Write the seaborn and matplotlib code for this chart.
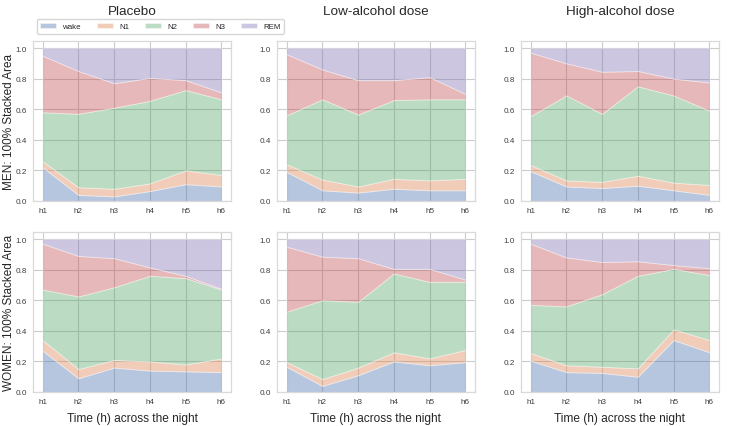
import numpy as np
import pandas as pd
import matplotlib
matplotlib.use("Agg")
import matplotlib.pyplot as plt
import seaborn as sns

hours = ["h1", "h2", "h3", "h4", "h5", "h6"]
stages = ["wake", "N1", "N2", "N3", "REM"]
conditions = ["Placebo", "Low-alcohol dose", "High-alcohol dose"]
groups = ["MEN", "WOMEN"]

# proportions of each stage per hour
men_placebo_wake = [0.22, 0.04, 0.03, 0.065, 0.11, 0.095]
men_placebo_n1 = [0.04, 0.05, 0.05, 0.05, 0.09, 0.075]
men_placebo_n2 = [0.32, 0.48, 0.53, 0.54, 0.525, 0.495]
men_placebo_n3 = [0.37, 0.28, 0.16, 0.15, 0.065, 0.045]
men_placebo_rem = [0.05, 0.15, 0.23, 0.195, 0.21, 0.29]

men_low_wake = [0.19, 0.07, 0.055, 0.08, 0.07, 0.07]
men_low_n1 = [0.05, 0.07, 0.04, 0.065, 0.065, 0.075]
men_low_n2 = [0.32, 0.525, 0.47, 0.515, 0.53, 0.52]
men_low_n3 = [0.40, 0.195, 0.225, 0.13, 0.145, 0.035]
men_low_rem = [0.04, 0.14, 0.21, 0.21, 0.19, 0.30]

men_high_wake = [0.195, 0.095, 0.085, 0.10, 0.07, 0.04]
men_high_n1 = [0.04, 0.04, 0.04, 0.065, 0.05, 0.065]
men_high_n2 = [0.32, 0.555, 0.445, 0.585, 0.57, 0.485]
men_high_n3 = [0.415, 0.21, 0.275, 0.10, 0.11, 0.185]
men_high_rem = [0.03, 0.10, 0.155, 0.15, 0.20, 0.225]

women_placebo_wake = [0.27, 0.09, 0.16, 0.14, 0.135, 0.13]
women_placebo_n1 = [0.07, 0.06, 0.05, 0.06, 0.045, 0.09]
women_placebo_n2 = [0.33, 0.475, 0.475, 0.56, 0.565, 0.45]
women_placebo_n3 = [0.30, 0.265, 0.19, 0.055, 0.015, 0.005]
women_placebo_rem = [0.03, 0.11, 0.125, 0.185, 0.24, 0.325]

women_low_wake = [0.165, 0.04, 0.11, 0.20, 0.175, 0.195]
women_low_n1 = [0.03, 0.045, 0.05, 0.06, 0.045, 0.08]
women_low_n2 = [0.33, 0.515, 0.43, 0.515, 0.50, 0.445]
women_low_n3 = [0.425, 0.285, 0.285, 0.03, 0.085, 0.015]
women_low_rem = [0.05, 0.115, 0.125, 0.195, 0.195, 0.265]

women_high_wake = [0.205, 0.13, 0.125, 0.10, 0.34, 0.26]
women_high_n1 = [0.05, 0.045, 0.04, 0.055, 0.07, 0.08]
women_high_n2 = [0.315, 0.385, 0.475, 0.605, 0.395, 0.425]
women_high_n3 = [0.40, 0.32, 0.21, 0.095, 0.025, 0.045]
women_high_rem = [0.03, 0.12, 0.15, 0.145, 0.17, 0.19]

panels = {
    ("MEN", "Placebo"): [men_placebo_wake, men_placebo_n1, men_placebo_n2, men_placebo_n3, men_placebo_rem],
    ("MEN", "Low-alcohol dose"): [men_low_wake, men_low_n1, men_low_n2, men_low_n3, men_low_rem],
    ("MEN", "High-alcohol dose"): [men_high_wake, men_high_n1, men_high_n2, men_high_n3, men_high_rem],
    ("WOMEN", "Placebo"): [women_placebo_wake, women_placebo_n1, women_placebo_n2, women_placebo_n3, women_placebo_rem],
    ("WOMEN", "Low-alcohol dose"): [women_low_wake, women_low_n1, women_low_n2, women_low_n3, women_low_rem],
    ("WOMEN", "High-alcohol dose"): [women_high_wake, women_high_n1, women_high_n2, women_high_n3, women_high_rem],
}

sns.set_theme(style="whitegrid")
plt.rcParams["font.family"] = ["Liberation Sans", "DejaVu Sans"]

colors = sns.color_palette("deep", 5)

fig, axes = plt.subplots(2, 3, figsize=(7.29, 4.27), dpi=100)
fig.subplots_adjust(left=33 / 729, right=719 / 729, top=1 - 42 / 427,
                    bottom=1 - 393 / 427, wspace=0.232, hspace=0.194)

x = np.arange(len(hours))
for r, g in enumerate(groups):
    for c, cond in enumerate(conditions):
        ax = axes[r, c]
        df = pd.DataFrame(dict(zip(stages, panels[(g, cond)])), index=hours)
        df = df.div(df.sum(axis=1), axis=0)
        ax.stackplot(x, *[df[s].values for s in stages], labels=stages,
                     colors=colors, alpha=0.4, edgecolor="white", linewidth=0.7)
        ax.set_xticks(x)
        ax.set_xticklabels(hours)
        ax.set_xlim(-0.27, len(hours) - 1 + 0.27)
        ax.set_ylim(0, 1.046)
        ax.set_yticks([0, 0.2, 0.4, 0.6, 0.8, 1.0])
        ax.set_yticklabels(["0.0", "0.2", "0.4", "0.6", "0.8", "1.0"])
        ax.tick_params(labelsize=5.9, pad=4.5, length=0, colors="0.25")
        ax.grid(True, linewidth=0.8, color="0.8")
        for sp in ax.spines.values():
            sp.set_linewidth(0.9)
            sp.set_color("0.85")
        if r == 0:
            ax.set_title(cond, fontsize=9.7, pad=19.5, color="0.15")
        if c == 0:
            ax.set_ylabel(f"{g}: 100% Stacked Area", fontsize=8.5, labelpad=0.5, color="0.15")
        if r == 1:
            ax.set_xlabel("Time (h) across the night", fontsize=8.6, labelpad=5, color="0.15")

axes[0, 0].legend(loc="center", bbox_to_anchor=(0.643, 1.09), ncol=5, fontsize=5.7,
                  frameon=True, handlelength=2.0, columnspacing=2.0,
                  borderpad=0.45, edgecolor="0.8")

fig.savefig("out.png", dpi=100)
